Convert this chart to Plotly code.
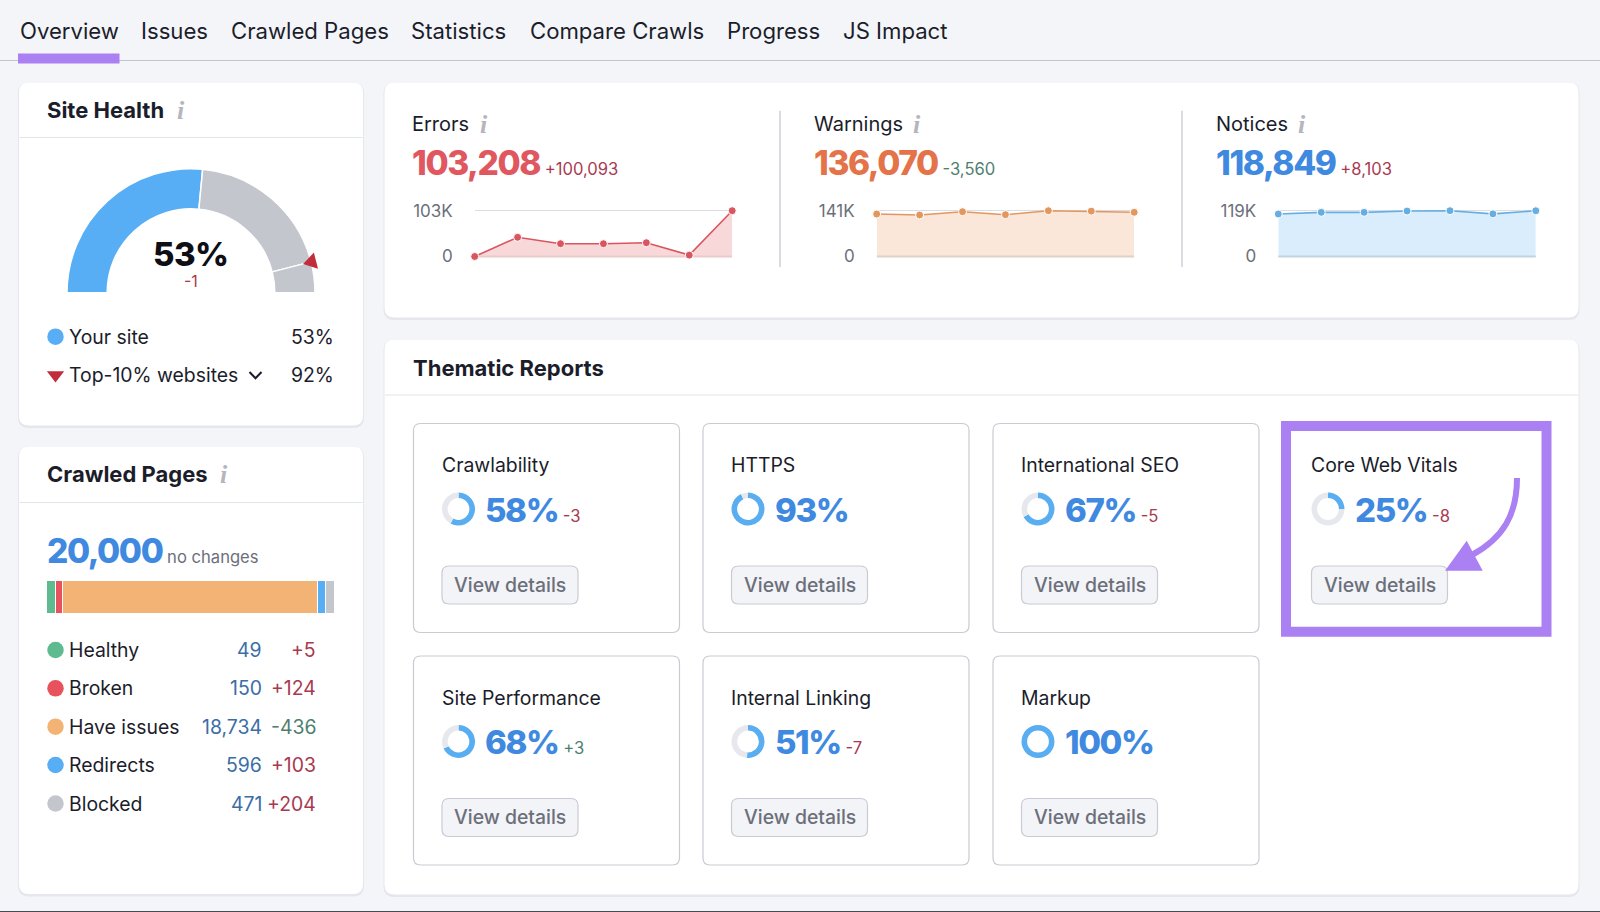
import math

import plotly.graph_objects as go

WIDTH = 1600
HEIGHT = 912
FONT = "Inter"

TEXT = "#1b1d2b"
MUTED = "#6c6f7a"
RED = "#a83a50"
GREEN = "#4f7f6f"
BLUE = "#3f8ae0"
PURPLE = "#ab80f3"
BORDER = "#c9cbd3"
BIG_STYLE = "font-weight:800;letter-spacing:-1.4px"

tab_names = ["Overview", "Issues", "Crawled Pages", "Statistics", "Compare Crawls", "Progress", "JS Impact"]

site_health = 53
site_health_delta = "-1"
top10_health = 92

issue_names = ["Errors", "Warnings", "Notices"]
issue_totals = ["103,208", "136,070", "118,849"]
issue_deltas = ["+100,093", "-3,560", "+8,103"]
issue_max_labels = ["103K", "141K", "119K"]
errors_trend = [0, 43200, 28800, 28800, 31000, 3115, 103208]
warnings_trend = [130800, 127700, 137900, 128700, 141000, 139630, 136070]
notices_trend = [110400, 114700, 114700, 118100, 119000, 110746, 118849]
issue_axis_max = [103208, 141000, 119000]

crawled_total = "20,000"
crawled_names = ["Healthy", "Broken", "Have issues", "Redirects", "Blocked"]
crawled_counts = ["49", "150", "18,734", "596", "471"]
crawled_deltas = ["+5", "+124", "-436", "+103", "+204"]
# the tool gives small groups a minimum width, so these are the drawn widths, not the counts
crawled_bar_widths = [8.5, 7.5, 254, 8, 9]
crawled_colors = ["#5dbb8f", "#e8525c", "#f3b375", "#58aef5", "#c4c6ce"]

tile_names = ["Crawlability", "HTTPS", "International SEO", "Core Web Vitals",
              "Site Performance", "Internal Linking", "Markup"]
tile_scores = [58, 93, 67, 25, 68, 51, 100]
tile_deltas = ["-3", "", "-5", "-8", "+3", "-7", ""]


def px_x(x):
    return x / WIDTH


def px_y(y):
    return 1 - y / HEIGHT


def rounded(x0, y0, x1, y1, r):
    return (
        f"M {x0 + r} {y0} L {x1 - r} {y0} Q {x1} {y0} {x1} {y0 + r} "
        f"L {x1} {y1 - r} Q {x1} {y1} {x1 - r} {y1} "
        f"L {x0 + r} {y1} Q {x0} {y1} {x0} {y1 - r} "
        f"L {x0} {y0 + r} Q {x0} {y0} {x0 + r} {y0} Z"
    )


shapes = []
annotations = []


def box(x0, y0, x1, y1, r=8, fill="white", line=None, width=1, layer="below"):
    shapes.append(dict(
        type="path", path=rounded(x0, y0, x1, y1, r), xref="x", yref="y", layer=layer,
        fillcolor=fill, line=dict(color=line or fill, width=width),
    ))


def card(x0, y0, x1, y1):
    box(x0 - 1, y0, x1 + 1, y1 + 2.5, r=10, fill="#e6e7ec")
    box(x0, y0, x1, y1, r=9)


def hline(x0, x1, y, color="#e3e4e9", width=1):
    shapes.append(dict(type="line", x0=x0, x1=x1, y0=y, y1=y, xref="x", yref="y", layer="below",
                       line=dict(color=color, width=width)))


def vline(x, y0, y1, color="#cfd1d8", width=1.5):
    shapes.append(dict(type="line", x0=x, x1=x, y0=y0, y1=y1, xref="x", yref="y", layer="below",
                       line=dict(color=color, width=width)))


def label(x, y, text, size=19.4, color=TEXT, anchor="left", family=FONT):
    annotations.append(dict(
        x=x, y=y, xref="x", yref="y", text=text, showarrow=False, xanchor=anchor, yanchor="middle",
        font=dict(family=family, size=size, color=color), borderpad=0, borderwidth=0,
    ))


def delta_color(value):
    return GREEN if value.startswith("-") else RED


def info(x, y):
    label(x, y, "<b><i>i</i></b>", size=26, color="#b4b6bf", anchor="center", family="Liberation Serif")


fig = go.Figure()

# full page canvas the cards and text sit on, in page pixels
fig.add_trace(go.Scatter(x=[0], y=[0], mode="markers", marker=dict(opacity=0), hoverinfo="skip", showlegend=False))

# tabs
hline(0, WIDTH, 60.5, color="#c3c5cd", width=1.2)
shapes.append(dict(type="rect", x0=18, x1=119.5, y0=53.5, y1=63.5, xref="x", yref="y", layer="below",
                   fillcolor=PURPLE, line=dict(width=0)))
tab_lefts = [19.5, 140.5, 230.5, 410.5, 529.5, 726.5, 842.5]
for name, left in zip(tab_names, tab_lefts):
    label(left, 31, name, size=22.15)

# site health
card(19.5, 83, 362.5, 425)
hline(19.5, 362.5, 137.5)
label(47, 110, "<b>Site Health</b>", size=22)
info(181, 110)

gauge_cx, gauge_cy, gauge_r = 191, 292.7, 124
fig.add_trace(go.Pie(
    values=[site_health, top10_health - site_health, 100 - top10_health, 100],
    sort=False, direction="clockwise", rotation=270, hole=0.676, textinfo="none", hoverinfo="skip",
    showlegend=False,
    marker=dict(colors=["#58aef5", "#c4c6ce", "#c4c6ce", "rgba(0,0,0,0)"],
                line=dict(color="white", width=[1.5, 1.5, 1.5, 0])),
    domain=dict(x=[px_x(gauge_cx - gauge_r), px_x(gauge_cx + gauge_r)],
                y=[px_y(gauge_cy + gauge_r), px_y(gauge_cy - gauge_r)]),
))
label(gauge_cx - 0.5, 253.5, f"<span style='font-weight:800;letter-spacing:-0.6px'>{site_health}%</span>",
      size=33, color="#0d0e16", anchor="center")
label(gauge_cx, 281, site_health_delta, size=16, color=RED, anchor="center")

# marker sitting on the ring at the top-10% value, tip towards the centre
top10_angle = math.pi * (1 - top10_health / 100)
ux, uy = math.cos(top10_angle), -math.sin(top10_angle)
tip = (gauge_cx + 115.7 * ux, gauge_cy + 115.7 * uy)
base = (gauge_cx + 129 * ux, gauge_cy + 129 * uy)
corner_a = (base[0] - 8.3 * uy, base[1] + 8.3 * ux)
corner_b = (base[0] + 8.3 * uy, base[1] - 8.3 * ux)
shapes.append(dict(
    type="path", xref="x", yref="y", layer="above", fillcolor="#c22d3c", line=dict(width=0),
    path=f"M {tip[0]} {tip[1]} L {corner_a[0]} {corner_a[1]} L {corner_b[0]} {corner_b[1]} Z",
))

fig.add_trace(go.Scatter(
    x=[55.5], y=[375], mode="markers", hoverinfo="skip", showlegend=False, cliponaxis=False,
    marker=dict(symbol="triangle-down", size=15, color="#c22d3c", line=dict(width=0)),
))
fig.add_trace(go.Scatter(
    x=[55.5], y=[336.7], mode="markers", hoverinfo="skip", showlegend=False,
    marker=dict(size=16.5, color="#58aef5", line=dict(width=0)),
))
label(69.3, 336.7, "Your site")
label(69.3, 375, "Top-10% websites")
label(334.3, 336.7, f"{site_health}%", anchor="right")
label(334.3, 375, f"{top10_health}%", anchor="right")
shapes.append(dict(type="path", path="M 249.5 372 L 255.5 378.3 L 261.5 372", xref="x", yref="y",
                   line=dict(color="#1b1d2b", width=2)))

# crawled pages
card(19.5, 447, 362.5, 893.5)
hline(19.5, 362.5, 502.5)
label(47, 474, "<b>Crawled Pages</b>", size=22)
info(224, 474)
label(46.5, 550.5,
      f"<span style='color:{BLUE};font-size:33.5px;{BIG_STYLE}'>{crawled_total}</span>"
      f"<span style='color:{MUTED};font-size:16.6px'> no changes</span>", size=16.6)

for name, width_px, color in zip(crawled_names, crawled_bar_widths, crawled_colors):
    fig.add_trace(go.Bar(
        y=["pages"], x=[width_px], name=name, orientation="h", xaxis="x5", yaxis="y5",
        hoverinfo="skip", showlegend=False,
        marker=dict(color=color, line=dict(color="white", width=1), cornerradius=2),
    ))

row_ys = [650, 688.3, 726.7, 765, 803.5]
fig.add_trace(go.Scatter(
    x=[55.5] * len(row_ys), y=row_ys, mode="markers", hoverinfo="skip", showlegend=False,
    marker=dict(size=16.5, color=crawled_colors, line=dict(width=0)),
))
for name, count, change, y in zip(crawled_names, crawled_counts, crawled_deltas, row_ys):
    label(69.3, y, name)
    label(262, y, count, color="#3b6ea6", anchor="right")
    label(315.5, y, change, color=delta_color(change), anchor="right")

# errors, warnings, notices
card(385, 83, 1578, 317)
vline(780, 110.7, 267)
vline(1182, 110.7, 267)

spark_lefts = [474.7, 876.7, 1278.3]
spark_width = 257.5
issue_lefts = [412.3, 813.8, 1215.8]
issue_info = [484, 917, 1302]
total_colors = ["#e0575f", "#e4734a", BLUE]
line_colors = ["#d9555f", "#e2975f", "#66aee0"]
fill_colors = ["#f9d8d9", "#fbe7da", "#d9edfc"]
baseline_colors = ["#e9c9cc", "#dcd2cc", "#c4d3e0"]
trends = [errors_trend, warnings_trend, notices_trend]

for i, name in enumerate(issue_names):
    n = i + 2
    label(issue_lefts[i], 124, name, size=20)
    info(issue_info[i], 124)
    label(issue_lefts[i], 162.5,
          f"<span style='color:{total_colors[i]};font-size:33.5px;{BIG_STYLE}'>{issue_totals[i]}</span>"
          f"<span style='color:{delta_color(issue_deltas[i])};font-size:16.6px'> {issue_deltas[i]}</span>",
          size=16.6)
    fig.add_trace(go.Scatter(
        x=list(range(len(trends[i]))), y=trends[i], mode="none", xaxis=f"x{n}", yaxis=f"y{n}",
        fill="tozeroy", fillcolor=fill_colors[i], cliponaxis=False, hoverinfo="skip", showlegend=False,
    ))
    # thin rule along the foot of the filled area, under the line and its dots
    fig.add_trace(go.Scatter(
        x=[0, len(trends[i]) - 1], y=[0, 0], mode="lines", xaxis=f"x{n}", yaxis=f"y{n}",
        cliponaxis=False, hoverinfo="skip", showlegend=False,
        line=dict(color=baseline_colors[i], width=1.8),
    ))
    fig.add_trace(go.Scatter(
        x=list(range(len(trends[i]))), y=trends[i], mode="lines+markers", xaxis=f"x{n}", yaxis=f"y{n}",
        cliponaxis=False, hoverinfo="skip", showlegend=False,
        line=dict(color=line_colors[i], width=1.6),
        marker=dict(size=8, color=line_colors[i], line=dict(color="white", width=1)),
    ))

# thematic reports
card(385, 340, 1578, 894)
hline(385, 1578, 395)
label(412.5, 367.5, "<b>Thematic Reports</b>", size=22)

tile_lefts = [413.5, 703, 993, 1283, 413.5, 703, 993]
tile_tops = [423.5, 423.5, 423.5, 423.5, 656, 656, 656]
tile_w, tile_h = 266, 209

for name, score, change, left, top in zip(tile_names, tile_scores, tile_deltas, tile_lefts, tile_tops):
    if name == "Core Web Vitals":
        shapes.append(dict(type="rect", x0=1286, x1=1546.5, y0=426, y1=631.7, xref="x", yref="y", layer="below",
                           fillcolor="white", line=dict(color=PURPLE, width=10)))
    else:
        box(left, top, left + tile_w, top + tile_h, r=7, line=BORDER, width=1.2)
    content_x = left + 28.5
    label(content_x - 0.5, top + 41.8, name)
    cx, cy, r = content_x + 16.5, top + 85.5, 16.5
    fig.add_trace(go.Pie(
        values=[score, 100 - score], sort=False, direction="clockwise", rotation=0, hole=0.66,
        textinfo="none", hoverinfo="skip", showlegend=False,
        marker=dict(colors=["#58aef0", "#e6e8ed"], line=dict(width=0)),
        domain=dict(x=[px_x(cx - r), px_x(cx + r)], y=[px_y(cy + r), px_y(cy - r)]),
    ))
    score_text = f"<span style='color:{BLUE};font-size:33px;{BIG_STYLE}'>{score}%</span>"
    if change:
        # a falling score is bad here, so the colours are the other way round from the issue counts
        change_color = RED if change.startswith("-") else GREEN
        score_text += f"<span style='color:{change_color};font-size:16.6px'> {change}</span>"
    label(content_x + 43, top + 86, score_text, size=16.6)
    box(content_x, top + 142.5, content_x + 136, top + 180.5, r=7, fill="#f3f4f8", line=BORDER, width=1.2)
    label(content_x + 68, top + 161.2, "<span style='font-weight:500'>View details</span>",
          size=19.4, color=MUTED, anchor="center")

# arrow on the Core Web Vitals tile
shapes.append(dict(type="path", path="M 1517 478 C 1517 515 1503 538 1472 555", xref="x", yref="y",
                   line=dict(color=PURPLE, width=6), layer="above"))
shapes.append(dict(type="path", path="M 1466.7 540.7 L 1482.7 570.7 L 1445 570.7 Z", xref="x", yref="y",
                   fillcolor=PURPLE, line=dict(color=PURPLE, width=0), layer="above"))

# bottom edge of the screenshot
hline(0, WIDTH, 911.5, color="#4a4c55", width=1.2)

layout_axes = dict(
    xaxis=dict(domain=[0, 1], range=[0, WIDTH], visible=False),
    yaxis=dict(domain=[0, 1], range=[HEIGHT, 0], visible=False),
    xaxis5=dict(domain=[px_x(47), px_x(335)], range=[0, sum(crawled_bar_widths)], visible=False, anchor="y5"),
    yaxis5=dict(domain=[px_y(614), px_y(581)], visible=False, anchor="x5"),
)
# plotly drops gridlines sitting on the very ends of an axis, so pad the range and domain alike
spark_pad = 0.04
spark_top, spark_bottom = 210.7, 256.5
spark_pad_px = spark_pad * (spark_bottom - spark_top)
for i in range(3):
    n = i + 2
    layout_axes[f"xaxis{n}"] = dict(
        domain=[px_x(spark_lefts[i]), px_x(spark_lefts[i] + spark_width)], range=[0, len(trends[i]) - 1],
        visible=False, anchor=f"y{n}",
    )
    layout_axes[f"yaxis{n}"] = dict(
        domain=[px_y(spark_bottom + spark_pad_px), px_y(spark_top - spark_pad_px)],
        range=[-spark_pad * issue_axis_max[i], (1 + spark_pad) * issue_axis_max[i]], anchor=f"x{n}",
        tickmode="array", tickvals=[0, issue_axis_max[i]], ticktext=["0", issue_max_labels[i]],
        showgrid=True, gridcolor="#dcdde2", gridwidth=1.2, zeroline=False, showline=False, ticks="",
        ticklabelstandoff=21, tickfont=dict(family=FONT, size=17, color=MUTED),
    )

fig.update_layout(
    width=WIDTH, height=HEIGHT, margin=dict(l=0, r=0, t=0, b=0, autoexpand=False),
    paper_bgcolor="#f4f5f9", plot_bgcolor="rgba(0,0,0,0)",
    font=dict(family=FONT, color=TEXT), showlegend=False, barmode="stack", bargap=0,
    shapes=shapes, annotations=annotations, **layout_axes,
)
fig.write_html("out.html", config={"displayModeBar": False}, post_script="document.body.style.margin = '0';")
